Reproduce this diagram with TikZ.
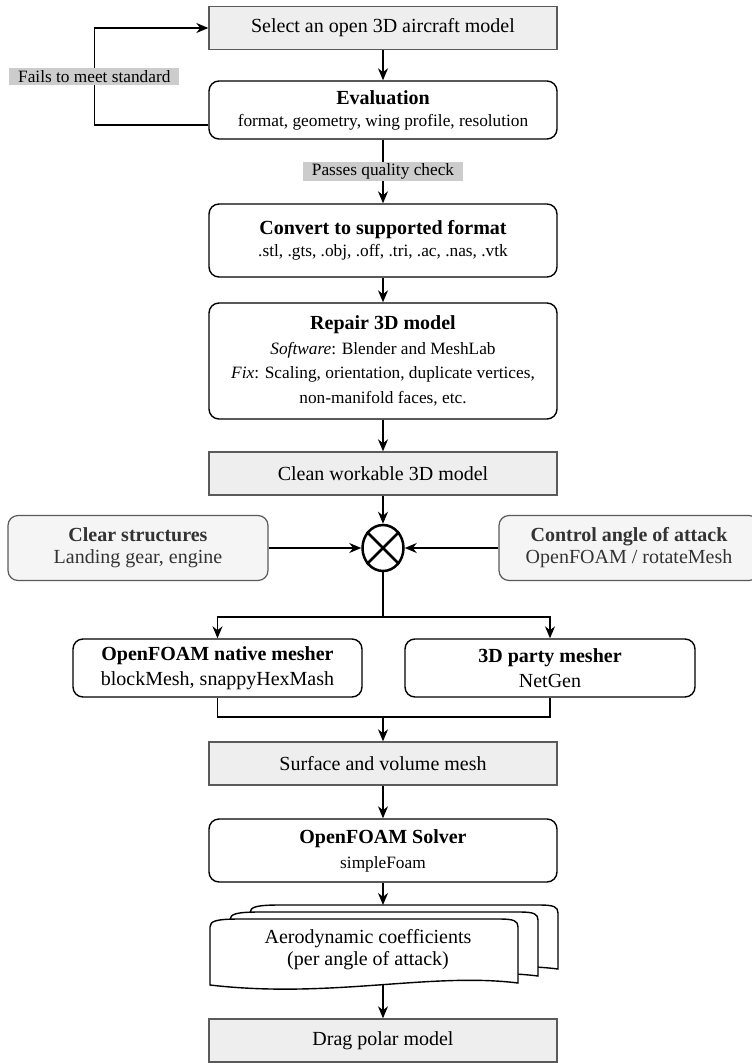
\documentclass[tikz,border=0pt]{standalone}
\usepackage{fontspec}
\setmainfont{Liberation Serif}
\usetikzlibrary{shapes.geometric, arrows.meta, positioning, calc}
\definecolor{boxgray}{HTML}{EEEEEE}
\definecolor{sidegray}{HTML}{F5F5F5}
\definecolor{taggray}{HTML}{CCCCCC}
\definecolor{edgegray}{HTML}{5A5A5A}
\definecolor{textgray}{HTML}{333333}
\newcommand{\bigtxt}{\fontsize{20}{22}\selectfont}
\newcommand{\smalltxt}{\fontsize{17.3}{22}\selectfont}
\tikzset{
    stepbox/.style={
        rectangle, draw=edgegray, fill=boxgray, line width=1.4pt,
        minimum width=348pt, minimum height=43pt, font=\bigtxt
    },
    roundbox/.style={
        rectangle, rounded corners=10pt, draw=black, fill=white, line width=1.4pt,
        minimum width=348pt, align=center, font=\bigtxt
    },
    sidebox/.style={
        rectangle, rounded corners=10pt, draw=edgegray, fill=sidegray, line width=1.2pt,
        minimum width=260pt, minimum height=65pt, align=center, text=textgray, font=\bigtxt
    },
    tag/.style={fill=taggray, font=\smalltxt, inner xsep=9pt, inner ysep=2pt},
    arrow/.style={-{Stealth[length=12pt, width=10pt]}, line width=1.4pt},
}

\begin{document}
\begin{tikzpicture}[x=1pt, y=-1pt]
    \useasboundingbox (0,0) rectangle (752,1063);
    % Main column
    \node[stepbox] (select) at (383,28) {Select an open 3D aircraft model};
    \node[roundbox, minimum height=58pt] (eval) at (383,110) {\textbf{Evaluation}\\{\smalltxt format, geometry, wing profile, resolution}};
    \node[roundbox, minimum height=73pt] (convert) at (383,240.5) {\textbf{Convert to supported format}\\{\smalltxt .stl, .gts, .obj, .off, .tri, .ac, .nas, .vtk}};
    \node[roundbox, minimum height=116pt] (repair) at (383,361) {\textbf{Repair 3D model}\\[2.5pt]{\smalltxt\textit{Software}: Blender and MeshLab}\\[2.5pt]{\smalltxt\textit{Fix}: Scaling, orientation, duplicate vertices,}\\[2.5pt]{\smalltxt non-manifold faces, etc.}};
    \node[stepbox] (clean) at (383,473.5) {Clean workable 3D model};

    % Merge point and side inputs
    \node[draw, ellipse, line width=2.5pt, minimum width=41pt, minimum height=46pt, inner sep=0pt] (merge) at (383,548) {};
    \draw[line width=2.5pt] (merge.45) -- (merge.225) (merge.135) -- (merge.-45);
    \node[sidebox] (clear) at (138,548) {\textbf{Clear structures}\\Landing gear, engine};
    \node[sidebox] (aoa) at (629,548) {\textbf{Control angle of attack}\\OpenFOAM / rotateMesh};

    % Meshers
    \node[roundbox, minimum width=289pt, minimum height=58pt] (native) at (217.5,668) {\textbf{OpenFOAM native mesher}\\[3pt]blockMesh, snappyHexMash};
    \node[roundbox, minimum width=290pt, minimum height=58pt] (party) at (550,668) {\textbf{3D party mesher}\\[3pt]NetGen};
    \coordinate (split) at (383,617);
    \coordinate (join) at (383,717);

    \node[stepbox] (surface) at (383,763.5) {Surface and volume mesh};
    \node[roundbox, minimum height=63pt] (solver) at (383,850.5) {\textbf{OpenFOAM Solver}\\[3pt]{\smalltxt simpleFoam}};

    % Stacked documents
    \foreach \dx/\dy in {40/-14, 20/-7, 0/0}
        \draw[shift={(\dx,\dy)}, line width=1.4pt, fill=white]
            (210,927) .. controls (210,921) and (216,919) .. (240,919) -- (500,919)
            .. controls (514,919) and (518,921) .. (518,927) -- (518,983)
            .. controls (430,972) and (330,999) .. (210,985) -- cycle;
    \node[font=\bigtxt, align=center] (coef) at (368,950) {Aerodynamic coefficients\\(per angle of attack)};
    \coordinate (coeftop) at (383,905);
    \coordinate (coefbot) at (383,984);

    \node[stepbox] (drag) at (383,1040.5) {Drag polar model};

    % Connectors
    \draw[arrow] (select) -- (eval);
    \draw[arrow] ($(eval.west)+(0,15)$) -- ++(-114,0) |- (select.west) node[tag, pos=0.25] {Fails to meet standard};
    \draw[arrow] (eval) -- node[tag] {Passes quality check} (convert);
    \draw[arrow] (convert) -- (repair);
    \draw[arrow] (repair) -- (clean);
    \draw[arrow] (clean) -- (merge);
    \draw[arrow] (clear) -- (merge);
    \draw[arrow] (aoa) -- (merge);
    \draw[line width=1.4pt] (merge) -- (split);
    \draw[arrow] (split) -| (native.north);
    \draw[arrow] (split) -| (party.north);
    \draw[line width=1.4pt] (native.south) |- (join) -| (party.south);
    \draw[arrow] (join) -- (surface);
    \draw[arrow] (surface) -- (solver);
    \draw[arrow] (solver) -- (coeftop);
    \draw[arrow] (coefbot) -- (drag);
\end{tikzpicture}
\end{document}
